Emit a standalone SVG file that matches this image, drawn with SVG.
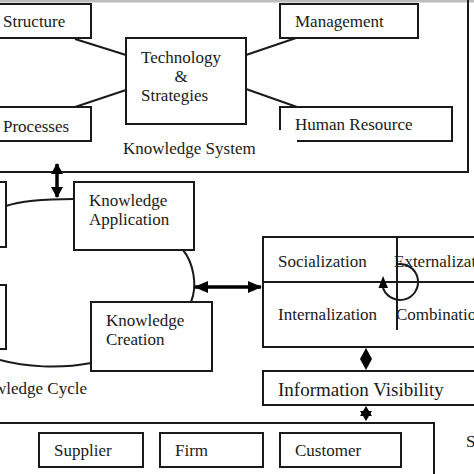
<svg xmlns="http://www.w3.org/2000/svg" width="474" height="474" viewBox="0 0 474 474">
<defs>
<style>
.b{fill:#fff;stroke:#1a1a1a;stroke-width:2}
.o{fill:none;stroke:#1a1a1a;stroke-width:2}
.t{font-family:"Liberation Serif","Times New Roman",serif;font-size:17px;fill:#1a1a1a}
.c{fill:none;stroke:#1a1a1a;stroke-width:2}
.a{fill:none;stroke:#000;stroke-width:3.5}
</style>
<marker id="ah" viewBox="0 0 14 12" refX="13" refY="6" markerWidth="14" markerHeight="12" markerUnits="userSpaceOnUse" orient="auto-start-reverse">
<path d="M0,0 L14,6 L0,12 z" fill="#000"/>
</marker>
<marker id="av" viewBox="0 0 11 12" refX="10" refY="6" markerWidth="11" markerHeight="12" markerUnits="userSpaceOnUse" orient="auto-start-reverse">
<path d="M0,0 L11,6 L0,12 z" fill="#000"/>
</marker>
</defs>
<rect width="474" height="474" fill="#fff"/>
<rect x="0" y="0" width="474" height="2.5" fill="#bdbdbd"/>

<g id="knowledge-system">
<path class="o" d="M-5,172 H468 V0"/>
<text class="t" x="123" y="154">Knowledge System</text>
</g>
<g id="structure"><rect class="b" x="-5" y="4" width="96" height="34"/><text class="t" x="3" y="27">Structure</text></g>
<g id="processes"><rect class="b" x="-5" y="107" width="96" height="34"/><text class="t" x="3" y="132">Processes</text></g>
<g id="management"><rect class="b" x="280" y="4" width="138" height="34"/><text class="t" x="295" y="27">Management</text></g>
<g id="human-resource"><path class="o" d="M297,141 H452 V107 H280 V130"/><text class="t" x="295" y="130">Human Resource</text></g>
<g id="technology"><rect class="b" x="126" y="38" width="120" height="86"/>
<text class="t" x="141" y="63">Technology</text><text class="t" x="181" y="82" text-anchor="middle">&amp;</text><text class="t" x="141" y="101">Strategies</text></g>

<g id="knowledge-cycle">
<text class="t" x="87" y="394" text-anchor="end">Knowledge Cycle</text>
</g>
<g id="left-top"><rect class="b" x="-10" y="182" width="16" height="65"/></g>
<g id="left-bottom"><rect class="b" x="-10" y="285" width="16" height="64"/></g>
<g id="knowledge-application"><rect class="b" x="74" y="182" width="120" height="68"/>
<text class="t" x="89" y="206">Knowledge</text><text class="t" x="89" y="225">Application</text></g>
<g id="knowledge-creation"><rect class="b" x="91" y="302" width="121" height="69"/>
<text class="t" x="106" y="326">Knowledge</text><text class="t" x="106" y="345">Creation</text></g>

<g id="seci">
<path class="o" d="M476,237 H263 V347 H476 M263,282 H476 M397,237 V330"/>
<text class="t" x="278" y="267">Socialization</text>
<text class="t" x="394" y="267">Externalization</text>
<text class="t" x="278" y="320">Internalization</text>
<text class="t" x="396" y="320">Combination</text>
<path class="c" d="M396.9,264.3 A18,18 0 1 1 382.5,286"/>
<polygon points="383,276 378.5,288 388,288" fill="#000"/>
</g>
<g id="information-visibility"><path class="o" d="M476,371 H263 V405 H476"/>
<text class="t" x="278" y="396" style="font-size:19px">Information Visibility</text></g>

<g id="supply-chain">
<path class="o" d="M-5,423 H434 V480"/>
<text class="t" x="466" y="447">Supply Chain</text>
</g>
<g id="supplier"><rect class="b" x="39" y="433" width="104" height="34"/><text class="t" x="54" y="456">Supplier</text></g>
<g id="firm"><rect class="b" x="160" y="433" width="103" height="34"/><text class="t" x="175" y="456">Firm</text></g>
<g id="customer"><rect class="b" x="280" y="433" width="121" height="34"/><text class="t" x="295" y="456">Customer</text></g>

<g id="connectors">
<line class="c" x1="75" y1="39" x2="126" y2="55"/>
<line class="c" x1="75" y1="107" x2="126" y2="90"/>
<line class="c" x1="296" y1="38" x2="246" y2="55"/>
<line class="c" x1="246" y1="89" x2="297" y2="107"/>
<path class="c" d="M6,206 C20,201 40,199 74,199"/>
<path class="c" d="M183,250 C193,262 198,285 191,302"/>
<path class="c" d="M0,360 C25,367 60,369 91,363"/>
<line class="a" x1="57" y1="164" x2="57" y2="197" marker-start="url(#av)" marker-end="url(#av)"/>
<line class="a" x1="195" y1="287" x2="261" y2="287" marker-start="url(#ah)" marker-end="url(#ah)"/>
<polygon points="366,348 372,359 366,370 360,359" fill="#000"/>
<polygon points="366,406 372,416 360,416" fill="#000"/>
<polygon points="366,421 372,411 360,411" fill="#000"/>
</g>
</svg>
